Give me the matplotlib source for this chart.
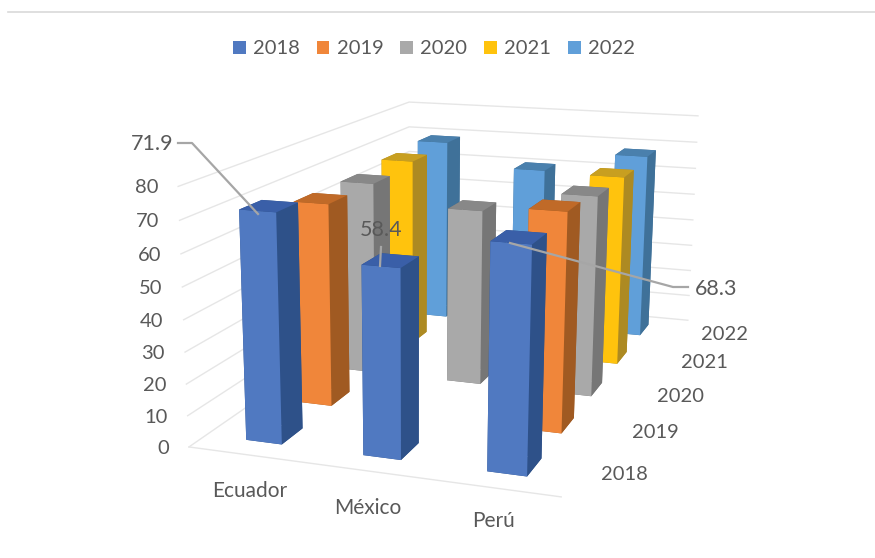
import matplotlib
matplotlib.use("Agg")
import matplotlib.pyplot as plt
import matplotlib.transforms as mtransforms
import numpy as np
from matplotlib.lines import Line2D
from matplotlib.patches import Patch

plt.rcParams["font.family"] = ["Lato", "DejaVu Sans"]

W, H = 875, 558

countries = ["Ecuador", "México", "Perú"]
years = ["2018", "2019", "2020", "2021", "2022"]
ticks = [0, 10, 20, 30, 40, 50, 60, 70, 80]

# rows: country, columns: year (nan = no bar)
ecuador = [71.9, 67, 66.7, 68, 69]
mexico = [58.4, np.nan, 60, np.nan, 60.5]
peru = [68.3, 70, 67.5, 67, 68]
values = [ecuador, mexico, peru]

# front, side, top shades per year
front = ["#5079c1", "#f0863a", "#a9a9a9", "#ffc30d", "#609fd9"]
side = ["#2e5189", "#a05a22", "#767676", "#ad8a22", "#3f7199"]
top = ["#3a5fa8", "#c06a28", "#888888", "#c89f20", "#4a80ad"]

BAR_W = 0.31
BAR_D = 0.40

# box corner -> pixel position, used to solve for the Excel style camera
camera_pts = [
    ((0, 0, 0), (189, 447)),
    ((3, 0, 0), (561, 497)),
    ((0, 0, 80), (178, 186)),
    ((0, 0, 40), (184, 320)),
    ((0, 5, 80), (410, 102)),
    ((0, 5, 70), (408, 127)),
    ((3, 5, 80), (698, 116)),
    ((3, 5, 0), (688, 320)),
]


def solve_camera(pts):
    rows = []
    for (x, y, z), (u, v) in pts:
        rows.append([x, y, z, 1, 0, 0, 0, 0, -u * x, -u * y, -u * z, -u])
        rows.append([0, 0, 0, 0, x, y, z, 1, -v * x, -v * y, -v * z, -v])
    p = np.linalg.svd(np.array(rows, dtype=float))[2][-1].reshape(3, 4)
    if p[2] @ np.array([1.5, 2.5, 0, 1]) < 0:
        p = -p
    p = p / (p[2] @ np.array([1.5, 2.5, 0, 1]))
    return np.vstack([p[0], p[1], [0, 0, 0, -1], p[2]])


M = solve_camera(camera_pts)


def project(x, y, z):
    q = M @ np.array([x, y, z, 1.0])
    return q[0] / q[3], q[1] / q[3]


fig = plt.figure(figsize=(W / 100, H / 100), dpi=100)
ax = fig.add_axes([0, (H - W) / 2 / H, 1, W / H], projection="3d", computed_zorder=False)
ax.set_axis_off()
ax.set_proj_type("ortho")
ax.get_proj = lambda: M
ax.viewLim.intervalx = (0, W)
ax.viewLim.intervaly = ((H + W) / 2, (H - W) / 2)

px = mtransforms.Affine2D().scale(1 / W, -1 / H).translate(0, 1) + fig.transFigure

# walls
grid_c = "#e6e6e6"
for t in ticks:
    ax.plot([0, 0, 3], [0, 5, 5], [t, t, t], color=grid_c, lw=1.0, zorder=1)
ax.plot([0, 3], [0, 0], [0, 0], color=grid_c, lw=1.0, zorder=1)

# bars back to front
order = 2
for j in reversed(range(len(years))):
    for i in range(len(countries)):
        v = values[i][j]
        if np.isnan(v):
            continue
        # bottom, top, front, back, left, right
        faces = [side[j], top[j], front[j], side[j], side[j], side[j]]
        ax.bar3d(i + 0.505 - BAR_W / 2, j + 0.5 - BAR_D / 2, 0, BAR_W, BAR_D, v,
                 color=faces, shade=False, linewidth=0, zorder=order)
        order += 1

# tick labels
txt_c = "#595959"
for t in ticks:
    u, v = project(0, 0, t)
    fig.text(u - 20, v + 1.5, str(t), transform=px, ha="right", va="center",
             fontsize=14.5, color=txt_c)

cat_pos = [(250, 491), (368, 508), (494, 521)]
for name, (u, v) in zip(countries, cat_pos):
    fig.text(u, v, name, transform=px, ha="center", va="center", fontsize=15, color=txt_c)

year_pos = [(624, 475), (655, 432), (681, 396), (704, 362), (725, 334)]
for name, (u, v) in zip(years, year_pos):
    fig.text(u, v, name, transform=px, ha="center", va="center", fontsize=14.5, color=txt_c)

# data labels with leader lines
leader_c = "#a6a6a6"
leaders = [
    ([178, 192, 258], [143, 143, 214]),
    ([381, 380], [247, 266]),
    ([510, 673, 688], [243, 287, 287]),
]
for us, vs in leaders:
    fig.add_artist(Line2D(us, vs, transform=px, color=leader_c, lw=1.6))
fig.text(152, 144, "71.9", transform=px, ha="center", va="center", fontsize=15.5, color=txt_c)
fig.text(381, 230, "58.4", transform=px, ha="center", va="center", fontsize=15.5, color=txt_c)
fig.text(716, 289, "68.3", transform=px, ha="center", va="center", fontsize=15.5, color=txt_c)

# rule at the top of the frame
fig.add_artist(Line2D([8, 875], [12, 12], transform=px, color="#d9d9d9", lw=1.2))

handles = [Patch(facecolor=c, label=y) for c, y in zip(front, years)]
fig.legend(handles=handles, loc="center", bbox_to_anchor=(434 / W, 1 - 49 / H), ncol=5,
           frameon=False, fontsize=14.5, labelcolor=txt_c, handlelength=0.64, handleheight=0.64,
           handletextpad=0.35, columnspacing=0.85)

fig.savefig("out.png", dpi=100)
